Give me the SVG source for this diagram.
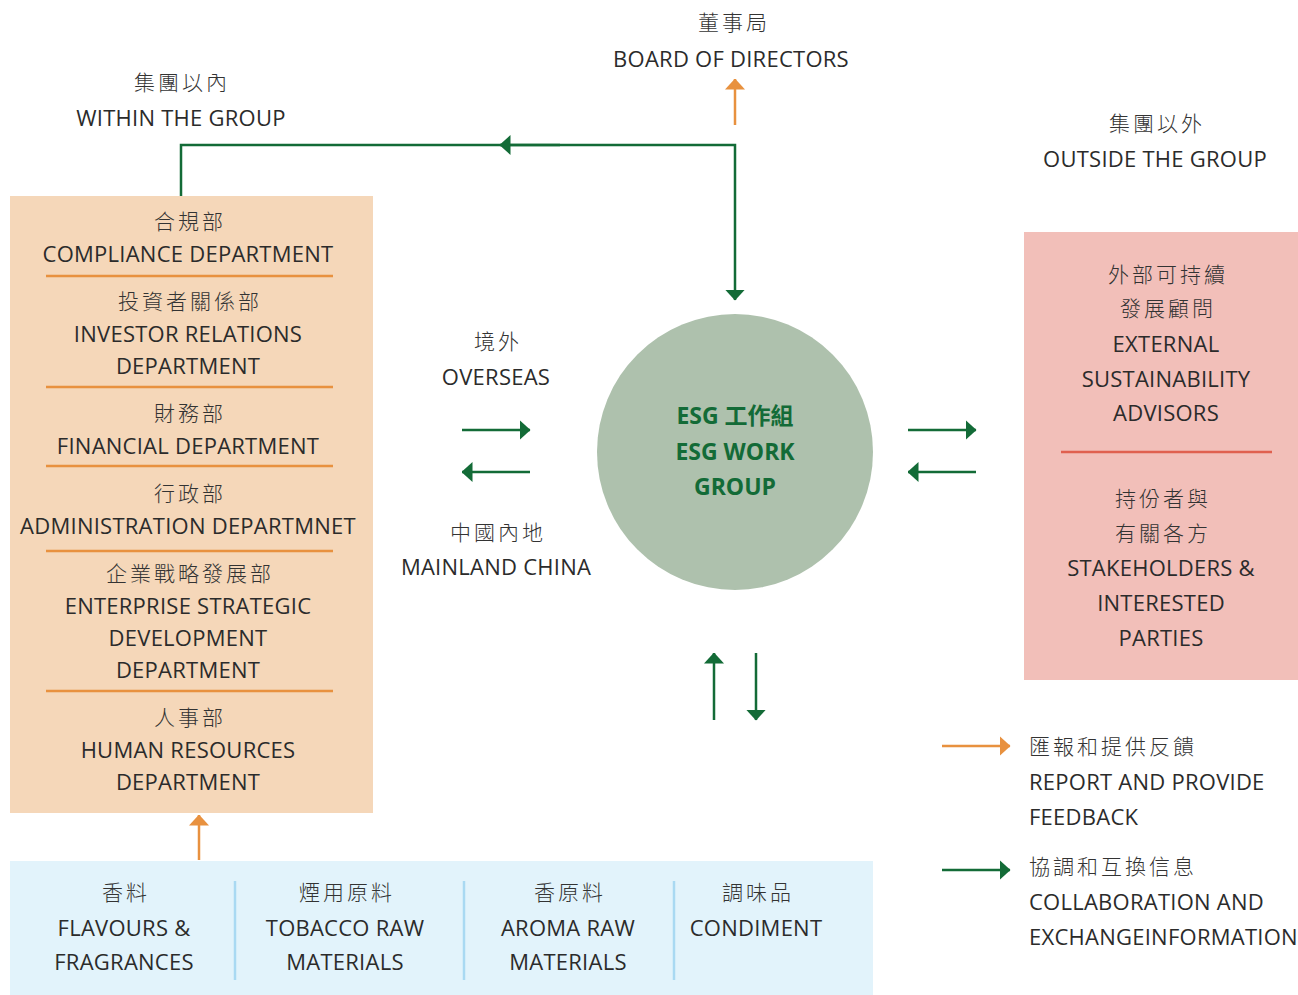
<svg xmlns="http://www.w3.org/2000/svg" width="1298" height="995" viewBox="0 0 1298 995">
<defs>
<style>
.en{font-family:"Open Sans","Noto Sans CJK TC",sans-serif;font-size:22px;font-weight:400;fill:#2b2b2b;text-anchor:middle;letter-spacing:0.25px}
.zh{font-family:"Noto Sans CJK TC","Noto Sans CJK SC",sans-serif;font-size:21px;font-weight:300;fill:#333333;text-anchor:middle;letter-spacing:3px}
.esg{font-family:"Open Sans","Noto Sans CJK TC",sans-serif;font-size:23px;font-weight:bold;fill:#136b37;text-anchor:middle}
.lg{text-anchor:start}
.g{stroke:#136b37;stroke-width:2.5;fill:none}
.o{stroke:#e8913f;stroke-width:2.5;fill:none}
.odiv{stroke:#e8913f;stroke-width:2.5}
.bdiv{stroke:#a9d9f2;stroke-width:2.5}
</style>
<marker id="ag" viewBox="0 0 11 20" refX="10.5" refY="10" markerWidth="11" markerHeight="20" markerUnits="userSpaceOnUse" orient="auto"><path d="M0,0 L11,10 L0,20 Z" fill="#136b37"/></marker>
<marker id="ao" viewBox="0 0 11 20" refX="10.5" refY="10" markerWidth="11" markerHeight="20" markerUnits="userSpaceOnUse" orient="auto"><path d="M0,0 L11,10 L0,20 Z" fill="#e8913f"/></marker>
</defs>
<rect width="1298" height="995" fill="#ffffff"/>

<g id="board">
<text class="zh" x="734" y="30">董事局</text>
<text class="en" x="731" y="67">BOARD OF DIRECTORS</text>
</g>
<g id="within-label">
<text class="zh" x="182" y="90">集團以內</text>
<text class="en" x="181" y="126">WITHIN THE GROUP</text>
</g>
<g id="outside-label">
<text class="zh" x="1157" y="131">集團以外</text>
<text class="en" x="1155" y="167">OUTSIDE THE GROUP</text>
</g>

<g id="departments">
<rect x="10" y="196" width="363" height="617" fill="#f5d7b9"/>
<line class="odiv" x1="46" y1="276" x2="333" y2="276"/>
<line class="odiv" x1="46" y1="387" x2="333" y2="387"/>
<line class="odiv" x1="46" y1="466" x2="333" y2="466"/>
<line class="odiv" x1="46" y1="551" x2="333" y2="551"/>
<line class="odiv" x1="46" y1="691" x2="333" y2="691"/>
<text class="zh" x="190" y="229">合規部</text>
<text class="en" x="188" y="262">COMPLIANCE DEPARTMENT</text>
<text class="zh" x="190" y="309">投資者關係部</text>
<text class="en" x="188" y="342">INVESTOR RELATIONS</text>
<text class="en" x="188" y="374">DEPARTMENT</text>
<text class="zh" x="190" y="421">財務部</text>
<text class="en" x="188" y="454">FINANCIAL DEPARTMENT</text>
<text class="zh" x="190" y="501">行政部</text>
<text class="en" x="188" y="534">ADMINISTRATION DEPARTMNET</text>
<text class="zh" x="190" y="581">企業戰略發展部</text>
<text class="en" x="188" y="614">ENTERPRISE STRATEGIC</text>
<text class="en" x="188" y="646">DEVELOPMENT</text>
<text class="en" x="188" y="678">DEPARTMENT</text>
<text class="zh" x="190" y="725">人事部</text>
<text class="en" x="188" y="758">HUMAN RESOURCES</text>
<text class="en" x="188" y="790">DEPARTMENT</text>
</g>

<g id="esg-group">
<circle cx="735" cy="452" r="138" fill="#aec1ad"/>
<text class="esg" x="735" y="424">ESG 工作組</text>
<text class="esg" x="735" y="460">ESG WORK</text>
<text class="esg" x="735" y="495">GROUP</text>
</g>

<g id="regions">
<text class="zh" x="498" y="349">境外</text>
<text class="en" x="496" y="385">OVERSEAS</text>
<text class="zh" x="498" y="540">中國內地</text>
<text class="en" x="496" y="575">MAINLAND CHINA</text>
</g>

<g id="external">
<rect x="1024" y="232" width="274" height="448" fill="#f2bfb9"/>
<line x1="1061" y1="452" x2="1272" y2="452" stroke="#e0604f" stroke-width="2.5"/>
<text class="zh" x="1168" y="282">外部可持續</text>
<text class="zh" x="1168" y="316">發展顧問</text>
<text class="en" x="1166" y="352">EXTERNAL</text>
<text class="en" x="1166" y="387">SUSTAINABILITY</text>
<text class="en" x="1166" y="421">ADVISORS</text>
<text class="zh" x="1163" y="506">持份者與</text>
<text class="zh" x="1163" y="541">有關各方</text>
<text class="en" x="1161" y="576">STAKEHOLDERS &amp;</text>
<text class="en" x="1161" y="611">INTERESTED</text>
<text class="en" x="1161" y="646">PARTIES</text>
</g>

<g id="suppliers">
<rect x="10" y="861" width="863" height="134" fill="#e2f3fb"/>
<line class="bdiv" x1="235" y1="881" x2="235" y2="980"/>
<line class="bdiv" x1="464" y1="881" x2="464" y2="980"/>
<line class="bdiv" x1="674" y1="881" x2="674" y2="980"/>
<text class="zh" x="126" y="900">香料</text>
<text class="en" x="124" y="936">FLAVOURS &amp;</text>
<text class="en" x="124" y="970">FRAGRANCES</text>
<text class="zh" x="347" y="900">煙用原料</text>
<text class="en" x="345" y="936">TOBACCO RAW</text>
<text class="en" x="345" y="970">MATERIALS</text>
<text class="zh" x="570" y="900">香原料</text>
<text class="en" x="568" y="936">AROMA RAW</text>
<text class="en" x="568" y="970">MATERIALS</text>
<text class="zh" x="758" y="900">調味品</text>
<text class="en" x="756" y="936">CONDIMENT</text>
</g>

<g id="legend">
<text class="zh lg" x="1029" y="754">匯報和提供反饋</text>
<text class="en lg" x="1029" y="790">REPORT AND PROVIDE</text>
<text class="en lg" x="1029" y="825">FEEDBACK</text>
<text class="zh lg" x="1029" y="874">協調和互換信息</text>
<text class="en lg" x="1029" y="910">COLLABORATION AND</text>
<text class="en lg" x="1029" y="945">EXCHANGEINFORMATION</text>
</g>

<g id="connectors">
<polyline class="g" points="181,196 181,145 735,145 735,300" marker-end="url(#ag)"/>
<line class="g" x1="560" y1="145" x2="500" y2="145" marker-end="url(#ag)"/>
<line class="o" x1="735" y1="125" x2="735" y2="79" marker-end="url(#ao)"/>
<line class="g" x1="462" y1="430" x2="530" y2="430" marker-end="url(#ag)"/>
<line class="g" x1="530" y1="472" x2="462" y2="472" marker-end="url(#ag)"/>
<line class="g" x1="908" y1="430" x2="976" y2="430" marker-end="url(#ag)"/>
<line class="g" x1="976" y1="472" x2="908" y2="472" marker-end="url(#ag)"/>
<line class="g" x1="714" y1="720" x2="714" y2="653" marker-end="url(#ag)"/>
<line class="g" x1="756" y1="653" x2="756" y2="720" marker-end="url(#ag)"/>
<line class="o" x1="199" y1="860" x2="199" y2="815" marker-end="url(#ao)"/>
<line class="o" x1="942" y1="746" x2="1010" y2="746" marker-end="url(#ao)"/>
<line class="g" x1="942" y1="870" x2="1010" y2="870" marker-end="url(#ag)"/>
</g>
</svg>
